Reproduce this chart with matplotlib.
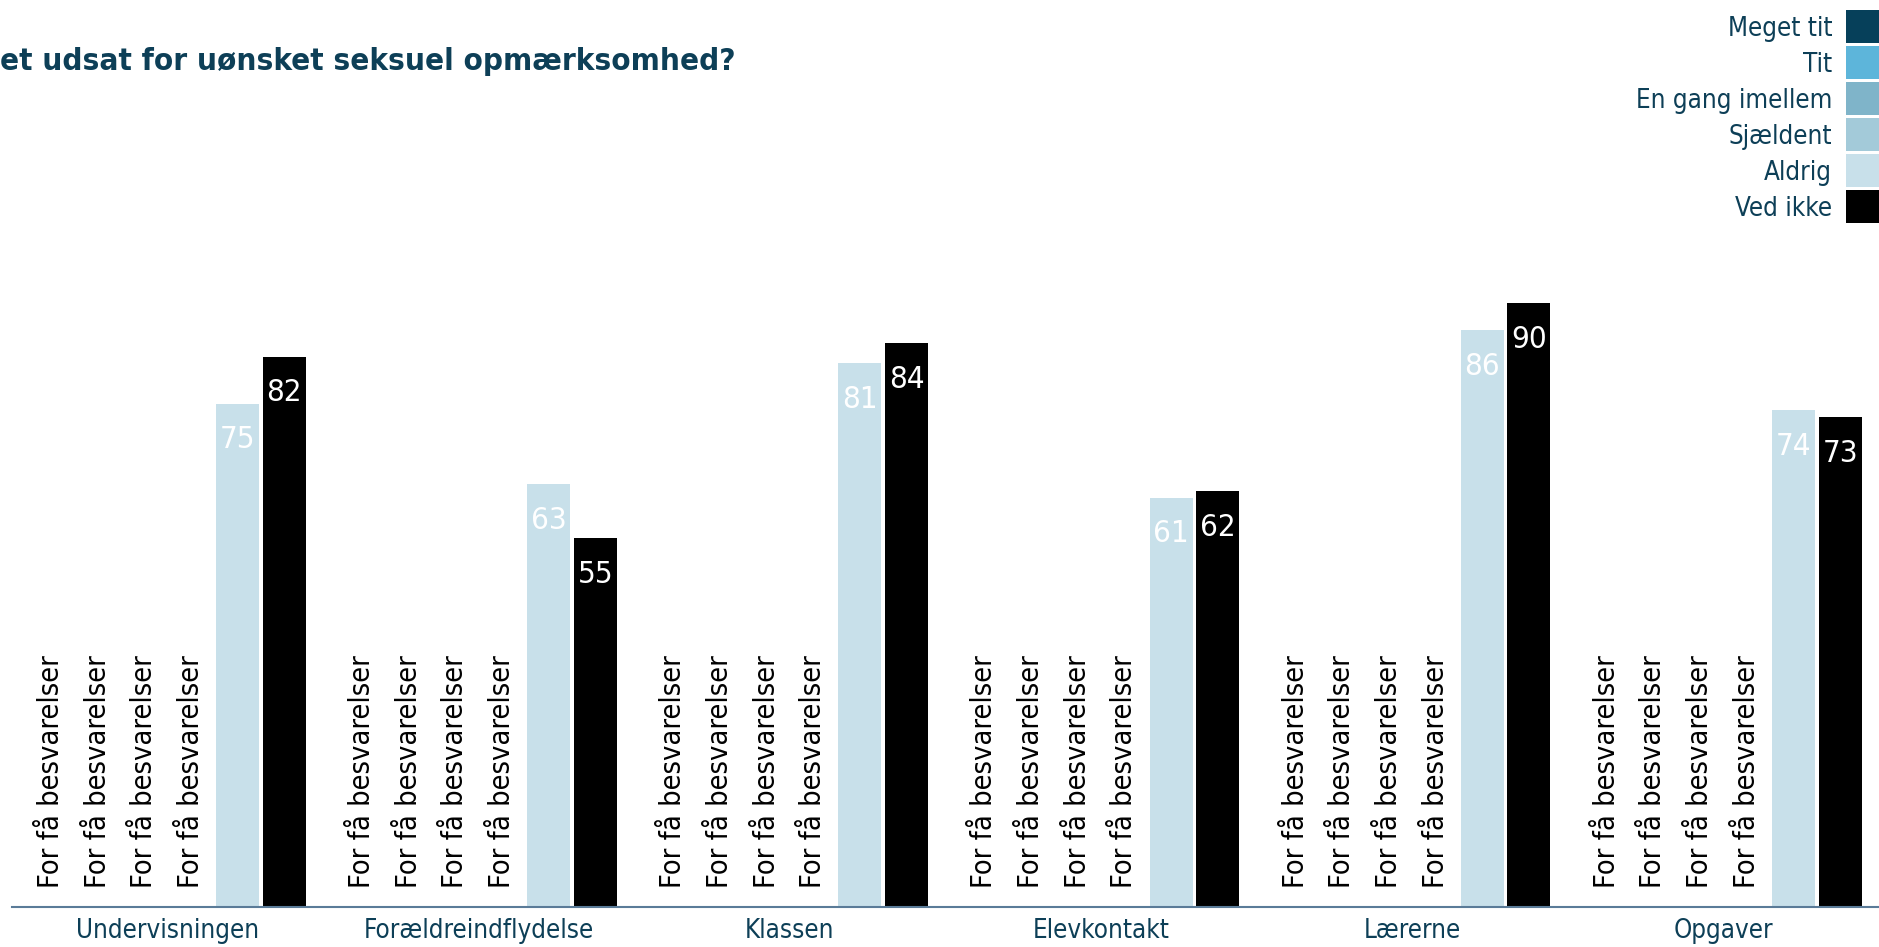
import matplotlib
matplotlib.use("Agg")
import matplotlib.pyplot as plt
from matplotlib import font_manager as fm
from matplotlib.patches import Rectangle
import numpy as np

# ---- data ----
categories = ["Undervisningen", "Forældreindflydelse", "Klassen", "Elevkontakt", "Lærerne", "Opgaver"]
series_names = ["Meget tit", "Tit", "En gang imellem", "Sjældent", "Aldrig", "Ved ikke"]
meget_tit = [None, None, None, None, None, None]
tit = [None, None, None, None, None, None]
en_gang_imellem = [None, None, None, None, None, None]
sjaeldent = [None, None, None, None, None, None]
aldrig = [75, 63, 81, 61, 86, 74]
ved_ikke = [82, 55, 84, 62, 90, 73]
few_label = "For få besvarelser"
title_text = "et udsat for uønsket seksuel opmærksomhed?"

colors = ["#06405a", "#5db5da", "#7fb4c9", "#a3cad9", "#c8e0ea", "#000000"]
label_colors = ["white", "white", "white", "white", "white", "white"]
text_dark = "#0d3f57"

W, H, DPI = 1879, 947, 100

# font selection: condensed DejaVu if present (closer to Tahoma widths)
cond = False
try:
    p = fm.findfont(fm.FontProperties(family="DejaVu Sans", stretch="condensed"), fallback_to_default=False)
    cond = "Condensed" in p
except Exception:
    cond = False

def fp(size_cond, size_reg, weight="normal"):
    if cond:
        return fm.FontProperties(family="DejaVu Sans", stretch="condensed", size=size_cond, weight=weight)
    return fm.FontProperties(family="DejaVu Sans", size=size_reg, weight=weight)

fig = plt.figure(figsize=(W / DPI, H / DPI), dpi=DPI)
fx = lambda px: px / W
fy = lambda py: 1 - py / H

ax = fig.add_axes([fx(12), fy(907), fx(W) - fx(12), fy(236) - fy(907)])
ax.set_xlim(-0.5, 5.5)
ax.set_ylim(0, 100)

all_series = [meget_tit, tit, en_gang_imellem, sjaeldent, aldrig, ved_ikke]
n = len(all_series)
slot = 0.15
bw = 0.138
x = np.arange(len(categories))

for k, (vals, col) in enumerate(zip(all_series, colors)):
    pos = x + (k - (n - 1) / 2) * slot
    for xi, v in zip(pos, vals):
        if v is None:
            ax.annotate(few_label, xy=(xi, 0), xytext=(0, 14), textcoords="offset points",
                        rotation=90, ha="center", va="bottom", color="black",
                        fontproperties=fp(20.8, 18.8))
        else:
            ax.bar(xi, v, width=bw, color=col, linewidth=0)
            ax.annotate(str(v), xy=(xi, v), xytext=(0, -26), textcoords="offset points",
                        ha="center", va="center", color=label_colors[k],
                        fontproperties=fp(22.5, 20))

for s in ["top", "right", "left"]:
    ax.spines[s].set_visible(False)
ax.spines["bottom"].set_color("#5a7b98")
ax.spines["bottom"].set_linewidth(1.5)
ax.set_yticks([])
ax.set_xticks(x)
ax.set_xticklabels(categories, color=text_dark, fontproperties=fp(18.6, 16.6))
ax.tick_params(axis="x", length=0, pad=8)

# title
fig.text(0.0, fy(62), title_text, ha="left", va="center", color=text_dark,
         fontproperties=fp(22.5, 20, weight="bold"))

# legend (handles on the right)
for i, (name, col) in enumerate(zip(series_names, colors)):
    top = 10 + 36 * i
    fig.patches.append(Rectangle((fx(1846), fy(top + 33)), fx(40), 33 / H,
                                 transform=fig.transFigure, color=col, linewidth=0))
    fig.text(fx(1832), fy(top + 25.5), name, ha="right", va="baseline",
             color=text_dark, fontproperties=fp(18.6, 16.6))

fig.savefig("out.png", dpi=DPI)
